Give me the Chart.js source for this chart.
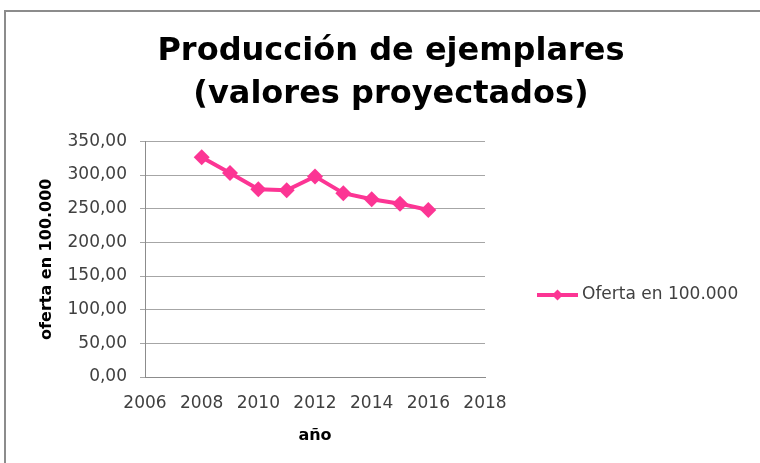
<!DOCTYPE html>
<html>
<head>
<meta charset="utf-8">
<script src="https://cdn.jsdelivr.net/npm/chart.js@4/dist/chart.umd.min.js"></script>
<style>
  html, body { margin: 0; padding: 0; background: #fff; }
  #wrap { width: 760px; height: 463px; }
</style>
</head>
<body>
<div id="wrap"><canvas id="myChart" width="760" height="463"></canvas></div>
<script>
// values
let years = [2008, 2009, 2010, 2011, 2012, 2013, 2014, 2015, 2016];
let oferta = [326.5, 303, 279, 277.5, 298, 273, 264, 257.5, 248];
let seriesName = 'Oferta en 100.000';
let titleLines = ['Producción de ejemplares', '(valores proyectados)'];
let yTitle = 'oferta en 100.000';
let xTitle = 'año';
let xRange = [2006, 2018];
let yRange = [0, 350];

let pink = '#fc3594';
let fontName = "'DejaVu Sans', sans-serif";

// grey frame like the spreadsheet chart border
const framePlugin = {
  id: 'frame',
  beforeDraw(chart) {
    let c = chart.ctx;
    c.save();
    c.fillStyle = '#fff';
    c.fillRect(0, 0, chart.width, chart.height);
    c.strokeStyle = '#8c8c8c';
    c.lineWidth = 2;
    c.strokeRect(5, 11, chart.width + 20, chart.height + 20);
    c.restore();
  }
};

// legend: line with diamond, then label
const legendPlugin = {
  id: 'lineLegend',
  afterDraw(chart) {
    let c = chart.ctx;
    let ds = chart.data.datasets[0];
    let x0 = chart.chartArea.right + 52;
    let y = 295;
    c.save();
    c.strokeStyle = ds.borderColor;
    c.lineWidth = 4;
    c.beginPath();
    c.moveTo(x0, y);
    c.lineTo(x0 + 41, y);
    c.stroke();
    c.fillStyle = ds.borderColor;
    c.beginPath();
    c.moveTo(x0 + 20.5, y - 5.5);
    c.lineTo(x0 + 26, y);
    c.lineTo(x0 + 20.5, y + 5.5);
    c.lineTo(x0 + 15, y);
    c.closePath();
    c.fill();
    c.fillStyle = '#404040';
    c.font = '17px ' + fontName;
    c.textBaseline = 'middle';
    c.fillText(ds.label, x0 + 45, y);
    c.restore();
  }
};

let ctx = document.getElementById('myChart').getContext('2d');
let points = years.map((yr, i) => ({x: yr, y: oferta[i]}));

new Chart(ctx, {
  type: 'line',
  data: {
    datasets: [{
      label: seriesName,
      data: points,
      borderColor: pink,
      backgroundColor: pink,
      borderWidth: 4,
      pointStyle: 'rectRot',
      pointRadius: 8,
      pointHoverRadius: 8,
      pointBorderWidth: 0,
      tension: 0
    }]
  },
  plugins: [framePlugin, legendPlugin],
  options: {
    responsive: false,
    animation: false,
    events: [],
    layout: {padding: {left: 22, right: 0, top: 0, bottom: 0}},
    plugins: {
      legend: {display: false},
      tooltip: {enabled: false},
      title: {
        display: true,
        text: titleLines,
        color: '#000',
        font: {family: fontName, size: 32, weight: 'bold', lineHeight: 1.35},
        padding: {top: 30, bottom: 25}
      }
    },
    scales: {
      x: {
        type: 'linear',
        min: xRange[0],
        max: xRange[1],
        afterFit(s) { s.height = 86; },
        grid: {display: false, drawTicks: false},
        border: {display: true, color: '#8c8c8c', width: 1},
        ticks: {
          stepSize: 2,
          padding: 16,
          color: '#404040',
          font: {family: fontName, size: 17},
          callback: v => String(v)
        },
        title: {
          display: true,
          text: xTitle,
          color: '#000',
          font: {family: fontName, size: 16, weight: 'bold'},
          padding: {top: 0, bottom: 18}
        }
      },
      y: {
        position: 'left',
        min: yRange[0],
        max: yRange[1],
        afterFit(s) { s.width = 123; },
        grid: {color: '#a6a6a6', lineWidth: 1, tickLength: 5, drawTicks: true},
        border: {display: true, color: '#8c8c8c', width: 1},
        ticks: {
          stepSize: 50,
          padding: 13,
          color: '#404040',
          font: {family: fontName, size: 17},
          callback: v => v.toFixed(2).replace('.', ',')
        },
        title: {
          display: true,
          text: yTitle,
          color: '#000',
          font: {family: fontName, size: 16, weight: 'bold'},
          padding: {top: 15, bottom: 0}
        }
      },
      // empty right axis that only keeps room for the legend
      spare: {
        type: 'linear',
        position: 'right',
        display: true,
        afterFit(s) { s.width = 275; },
        grid: {display: false, drawTicks: false},
        border: {display: false},
        ticks: {display: false}
      }
    }
  }
});
</script>
</body>
</html>
